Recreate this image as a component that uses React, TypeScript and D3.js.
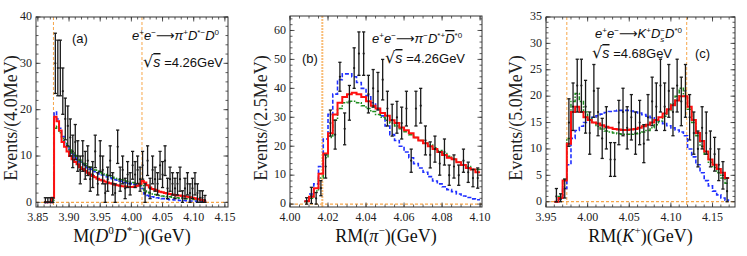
import React from "react";
import * as d3 from "d3";

const W = 747;
const H = 256;

const SERIF = "'Liberation Serif', 'Times New Roman', serif";
const SANS = "'Liberation Sans', Arial, sans-serif";

// ---- panel (a): M(D0 D*-) at 4.26 GeV, 4 MeV bins
const A_DATA_X0 = 3.862;
const A_BIN = 0.004;
const A_COUNTS = [
  0, 0, 0, 0,
  30, 29, 29, 24, 18, 16.5, 14, 11, 13, 10, 7, 10, 8, 9, 5, 6, 11, 4, 10, 7, 2, 5, 9, 4, 2, 12, 5, 7, 3, 6, 4,
  8, 6, 7, 5, 8, 2, 9, 3, 7, 5, 4, 8, 6, 9, 3, 5, 4, 3, 4, 5, 1, 3, 4, 2, 3, 4, 2, 1, 1, 0.5,
];
const A_ERRORS = [
  1, 1, 1, 1,
  6.5, 6, 6, 5, 4.5, 4.3, 4, 3.5, 3.8, 3.3, 3, 3.3, 3, 3.2, 2.6, 2.8, 3.5, 2.4, 3.3, 3, 2, 2.6, 3.2, 2.4, 2, 3.6, 2.6, 3, 2.2, 2.8, 2.4,
  3, 2.8, 3, 2.6, 3, 2, 3.2, 2.2, 3, 2.6, 2.4, 3, 2.8, 3.2, 2.2, 2.6, 2.4, 2.2, 2.4, 2.6, 1.5, 2.2, 2.4, 2, 2.2, 2.4, 2, 1.5, 1.5, 1,
];
const A_CURVE_X0 = 3.86;
const A_RED = [
  0, 0, 0, 1, 18.5, 17.5, 15.5, 13, 12, 11,
  10, 9.3, 8.7, 8.2, 7.6, 7.2, 6.8, 6.4, 6.0, 5.7, 5.4, 5.1, 4.9, 4.7, 4.5, 4.3, 4.1, 4.0, 3.8, 3.7, 3.6, 3.5, 3.4, 3.3, 3.3,
  3.3, 3.4, 3.6, 4.0, 4.6, 4.3, 3.7, 3.2, 2.9, 2.7, 2.5, 2.3, 2.2, 2.0, 1.9, 1.8, 1.7, 1.6, 1.5, 1.5, 1.4, 1.3, 1.2, 1.1, 1.0,
  0.9, 0.7, 0.6, 0.5, 0.3,
];
const A_BLUE = [
  0, 0, 0, 1, 19.5, 18, 16, 14.2, 13, 12,
  11, 10.3, 9.7, 9.2, 8.7, 8.3, 7.9, 7.5, 7.2, 6.9, 6.6, 6.4, 6.1, 5.9, 5.7, 5.5, 5.3, 5.1, 4.9, 4.8, 4.6, 4.5, 4.3, 4.2, 4.1,
  4.0, 3.9, 3.8, 3.6, 3.0, 1.8, 1.5, 1.3, 1.2, 1.1, 1.0, 0.9, 0.8, 0.8, 0.7, 0.6, 0.6, 0.5, 0.5, 0.4, 0.4, 0.4, 0.3, 0.3, 0.3,
  0.3, 0.2, 0.2, 0.2, 0.1,
];
const A_GREEN = [
  0, 0, 0, 0.5, 16, 16.5, 15, 13.8, 12.8, 12,
  11.3, 10.7, 10.1, 9.6, 9.1, 8.7, 8.3, 7.9, 7.6, 7.3, 7.0, 6.7, 6.5, 6.2, 6.0, 5.8, 5.6, 5.4, 5.2, 5.1, 4.9, 4.8, 4.6, 4.5, 4.4,
  4.3, 4.2, 4.1, 4.0, 3.6, 2.5, 2.2, 2.0, 1.8, 1.7, 1.6, 1.5, 1.4, 1.3, 1.2, 1.2, 1.1, 1.0, 1.0, 0.9, 0.9, 0.8, 0.8, 0.7, 0.7,
  0.6, 0.5, 0.5, 0.4, 0.3,
];
const A_THRESHOLDS = [3.875, 4.017];

// ---- panel (b): RM(pi-) at 4.26 GeV, 2.5 MeV bins
const B_DATA_X0 = 4.00875;
const B_BIN = 0.0025;
const B_COUNTS = [
  1, 3, 2, 5.5, 13, 28, 24, 44, 26, 35, 47, 52, 52, 38, 40, 39, 43, 33, 29, 30, 28, 33, 15, 33, 34,
  22, 17, 19, 14, 18, 10, 13, 10, 15, 11, 9, 9,
];
const B_ERRORS = [
  1.2, 2.8, 2, 2.6, 4, 4.5, 5, 5, 5.5, 6, 7, 7.5, 7.5, 6.5, 6.5, 6.5, 7, 6, 5.5, 5.5, 5.5, 6, 4, 6, 6,
  5, 4.5, 4.5, 4, 4.5, 3.5, 4, 3.5, 4, 3.5, 3, 3.5,
];
const B_CURVE_X0 = 4.0075;
const B_RED = [
  1, 2.5, 5.5, 10.5, 17.5, 24.5, 31, 35, 37, 38, 38.5, 38, 37, 35.5, 34, 33, 31.5, 30.5, 29, 28, 26.5, 25.5, 24.5, 23, 22,
  21, 20, 19, 18, 17, 16, 15.5, 14.5, 13.5, 12.5, 12, 11,
];
const B_BLUE = [
  1, 3.5, 7, 13, 22.5, 31, 38, 43, 45, 45, 44, 42, 40, 37.5, 35, 33, 30.5, 27, 24, 22, 20, 18, 16, 14, 12.5,
  11, 9.5, 8, 7, 6, 5, 4.3, 3.5, 2.8, 2.3, 1.8, 1.5,
];
const B_GREEN = [
  0.8, 2, 4.5, 9, 16, 23, 29, 33, 35, 35.5, 35.5, 35, 34, 33, 32, 31, 30, 29, 28, 27, 26, 25, 24, 23, 22,
  21, 20.5, 19.5, 18.5, 17.5, 16.5, 15.5, 14.5, 13.5, 13, 12, 12,
];
const B_THRESHOLDS = [4.017];

// ---- panel (c): RM(K+) at 4.68 GeV, 5 MeV bins
const C_DATA_X0 = 3.9625;
const C_BIN = 0.005;
const C_COUNTS = [
  1, 0.5, 2.5, 15, 18, 22, 22, 18,
  13, 21, 17, 12, 14, 8, 8, 15, 17, 14, 16, 13, 15, 11, 16, 19, 18, 22, 18, 21,
  17, 22, 19, 21, 16, 13, 10, 14, 13, 10, 9, 7, 5, 2,
];
const C_ERRORS = [
  1.5, 1, 1.8, 4.5, 4.5, 5, 5, 5,
  4, 5, 4.5, 3.8, 4, 3.2, 3.2, 4.2, 4.5, 4, 4.3, 4, 4.2, 3.6, 4.3, 4.6, 4.5, 5, 4.5, 5,
  4.5, 5, 4.6, 5, 4.3, 4, 3.4, 4, 4, 3.4, 3.2, 3, 2.6, 2.5,
];
const C_CURVE_X0 = 3.96;
const C_RED = [
  0, 0.7, 4, 11, 17, 18, 17, 16,
  15.5, 15, 14.8, 14.5, 14.2, 14, 13.8, 13.7, 13.6, 13.6, 13.7, 13.8, 14, 14.3, 14.6, 15, 15.5, 16, 16.7, 17.5,
  18.3, 19.2, 20, 20, 18, 15.5, 13, 11.5, 9.5, 8, 7, 6.2, 5.5, 4.5,
];
const C_BLUE = [
  0, 0.5, 2.5, 7, 12, 13.5, 14.3, 15,
  15.5, 16, 16.3, 16.6, 16.9, 17.1, 17.2, 17.3, 17.3, 17.3, 17.2, 17, 16.8, 16.5, 16.2, 15.9, 15.5, 15.2, 14.8, 14.4,
  14, 13.6, 13.2, 12.5, 10, 8.5, 7, 5.5, 4, 3, 2, 1.3, 0.7, 0.3,
];
const C_GREEN = [
  0, 1, 4.2, 12, 19, 20.5, 19, 17,
  15.8, 15, 14.3, 13.8, 13.4, 13.2, 13, 12.9, 12.8, 12.8, 12.8, 12.9, 13, 13.2, 13.5, 14, 14.6, 15.3, 16.2, 17.3,
  18.5, 20, 21.5, 20, 17.5, 15, 12.5, 10.5, 9, 7.5, 6.5, 5.5, 4.5, 3.5,
];
const C_THRESHOLDS = [3.975, 4.119];

type Seg = { t: string; it?: boolean; sup?: boolean; sub?: boolean; dx?: number; over?: boolean; fam?: string; k?: number };

function Rich({ x, y, segs, size, family, anchor = "start", transform }: any) {
  let shift = 0;
  return (
    <text x={x} y={y} fontSize={size} fontFamily={family} textAnchor={anchor} transform={transform} fill="#111">
      {segs.map((s: Seg, i: number) => {
        const target = s.sup ? -size * 0.42 : s.sub ? size * 0.28 : 0;
        const dy = target - shift;
        shift = target;
        const fs = s.sup || s.sub ? size * 0.62 : size * (s.k ?? 1);
        return (
          <tspan
            key={i}
            dy={dy}
            dx={s.dx}
            fontStyle={s.it ? "italic" : "normal"}
            fontSize={fs}
            fontFamily={s.fam}
            style={s.over ? { textDecoration: "overline" } : undefined}
          >
            {s.t}
          </tspan>
        );
      })}
    </text>
  );
}

const ARROW = "DejaVu Sans";

const PANELS = [
  {
    id: "a",
    left: 36, right: 228, top: 17, bottom: 207,
    xDomain: [3.847, 4.155], yDomain: [-1, 40],
    xMajor: [3.85, 0.05, 7], xMinor: 0.01, yMajor: 10, yMinor: 2,
    dataX0: A_DATA_X0, bin: A_BIN, counts: A_COUNTS, errors: A_ERRORS,
    curveX0: A_CURVE_X0, red: A_RED, blue: A_BLUE, green: A_GREEN,
    thresholds: A_THRESHOLDS,
    yTitle: "Events/(4.0MeV)", yTitleX: 11,
    xTitle: [
      { t: "M(" }, { t: "D", it: true }, { t: "0", sup: true }, { t: "D", it: true }, { t: "*−", sup: true }, { t: ")(GeV)" },
    ],
    tag: { t: "(a)", x: 72, y: 43 },
    reaction: {
      x: 132, y: 40,
      segs: [
        { t: "e", it: true }, { t: "+", sup: true }, { t: "e", it: true }, { t: "−", sup: true },
        { t: "⟶", fam: ARROW }, { t: "π", it: true }, { t: "+", sup: true }, { t: "D", it: true },
        { t: "*−", sup: true }, { t: "D", it: true }, { t: "0", sup: true },
      ],
    },
    energy: { x: 143, y: 67, e: "4.26" },
  },
  {
    id: "b",
    left: 290, right: 482, top: 16, bottom: 207,
    xDomain: [4.0, 4.101], yDomain: [-1, 65],
    xMajor: [4.0, 0.02, 6], xMinor: 0.005, yMajor: 10, yMinor: 2,
    dataX0: B_DATA_X0, bin: B_BIN, counts: B_COUNTS, errors: B_ERRORS,
    curveX0: B_CURVE_X0, red: B_RED, blue: B_BLUE, green: B_GREEN,
    thresholds: B_THRESHOLDS,
    yTitle: "Events/(2.5MeV)", yTitleX: 261,
    xTitle: [{ t: "RM(" }, { t: "π", it: true }, { t: "−", sup: true }, { t: ")(GeV)" }],
    tag: { t: "(b)", x: 302, y: 63 },
    reaction: {
      x: 372, y: 43,
      segs: [
        { t: "e", it: true }, { t: "+", sup: true }, { t: "e", it: true }, { t: "−", sup: true },
        { t: "⟶", fam: ARROW }, { t: "π", it: true }, { t: "−", sup: true }, { t: "D", it: true },
        { t: "*+", sup: true }, { t: "D", it: true, over: true }, { t: "*0", sup: true },
      ],
    },
    energy: { x: 385, y: 63, e: "4.26" },
  },
  {
    id: "c",
    left: 546, right: 735, top: 17, bottom: 207,
    xDomain: [3.95, 4.177], yDomain: [-1, 35],
    xMajor: [3.95, 0.05, 5], xMinor: 0.01, yMajor: 5, yMinor: 1,
    dataX0: C_DATA_X0, bin: C_BIN, counts: C_COUNTS, errors: C_ERRORS,
    curveX0: C_CURVE_X0, red: C_RED, blue: C_BLUE, green: C_GREEN,
    thresholds: C_THRESHOLDS,
    yTitle: "Events/(5.0MeV)", yTitleX: 516,
    xTitle: [{ t: "RM(" }, { t: "K", it: true }, { t: "+", sup: true }, { t: ")(GeV)" }],
    tag: { t: "(c)", x: 695, y: 58 },
    reaction: {
      x: 595, y: 38,
      segs: [
        { t: "e", it: true }, { t: "+", sup: true }, { t: "e", it: true }, { t: "−", sup: true },
        { t: "⟶", fam: ARROW }, { t: "K", it: true }, { t: "+", sup: true }, { t: "D", it: true },
        { t: "s", sub: true, it: true }, { t: "−", sup: true, dx: -4 }, { t: "D", it: true }, { t: "*0", sup: true },
      ],
    },
    energy: { x: 592, y: 58, e: "4.68" },
  },
];

function Panel({ p }: any) {
  const x = d3.scaleLinear().domain(p.xDomain).range([p.left, p.right]);
  const y = d3.scaleLinear().domain(p.yDomain).range([p.bottom, p.top]);
  const frame = "#333";

  const step = (vals: number[]) => {
    const pts: [number, number][] = vals.map((v, i) => [p.curveX0 + i * p.bin, v]);
    pts.push([p.curveX0 + vals.length * p.bin, vals[vals.length - 1]]);
    return d3.line<[number, number]>().x((d) => x(d[0])).y((d) => y(d[1])).curve(d3.curveStepAfter)(pts) || "";
  };

  const [x0, xs, xn] = p.xMajor;
  const xMajor = d3.range(xn).map((i) => x0 + i * xs);
  const nMinor = Math.round((p.xDomain[1] - x0) / p.xMinor);
  const xMinor = d3.range(-1, nMinor + 1).map((i) => x0 + i * p.xMinor).filter((v) => v >= p.xDomain[0] && v <= p.xDomain[1]);
  const yMajor = d3.range(0, p.yDomain[1] + 1e-6, p.yMajor);
  const yMinor = d3.range(0, p.yDomain[1] + 1e-6, p.yMinor);
  const clipId = `clip-${p.id}`;

  return (
    <g>
      <defs>
        <clipPath id={clipId}>
          <rect x={p.left} y={p.top} width={p.right - p.left} height={p.bottom - p.top} />
        </clipPath>
      </defs>
      <g clipPath={`url(#${clipId})`}>
        <line x1={p.left} x2={p.right} y1={y(0)} y2={y(0)} stroke="#f7a64a" strokeWidth={1.2} strokeDasharray="3,2" />
        {p.thresholds.map((t: number) => (
          <line key={t} x1={x(t)} x2={x(t)} y1={p.top} y2={p.bottom} stroke="#f7a64a"
            strokeWidth={p.id === "b" ? 2 : 1} strokeDasharray={p.id === "b" ? "2,1" : "3,2"} opacity={p.id === "b" ? 0.75 : 1} />
        ))}
        <path d={step(p.blue)} fill="none" stroke="#2030ff" strokeWidth={1.6} strokeDasharray="4,2" />
        <path d={step(p.green)} fill="none" stroke="#1e8c1e" strokeWidth={1.5} strokeDasharray="4,1.5,1.5,1.5" />
        <path d={step(p.red)} fill="none" stroke="#ff1010" strokeWidth={2} />
        {p.counts.map((v: number, i: number) => {
          const cx = x(p.dataX0 + i * p.bin);
          const lo = y(Math.max(0, v - p.errors[i]));
          const hi = y(v + p.errors[i]);
          return (
            <g key={i} stroke="#1a1a1a" strokeWidth={1.3}>
              <line x1={cx} x2={cx} y1={lo} y2={hi} />
              <line x1={cx - 1.6} x2={cx + 1.6} y1={lo} y2={lo} />
              <line x1={cx - 1.6} x2={cx + 1.6} y1={hi} y2={hi} />
              <circle cx={cx} cy={y(v)} r={1.1} fill="#1a1a1a" stroke="none" />
            </g>
          );
        })}
      </g>

      {/* frame + ticks on all four sides */}
      <rect x={p.left} y={p.top} width={p.right - p.left} height={p.bottom - p.top} fill="none" stroke={frame} strokeWidth={1} />
      <g stroke={frame} strokeWidth={0.8}>
        {xMinor.map((v: number, i: number) => (
          <g key={`xm${i}`}>
            <line x1={x(v)} x2={x(v)} y1={p.bottom} y2={p.bottom - 2.5} />
            <line x1={x(v)} x2={x(v)} y1={p.top} y2={p.top + 2.5} />
          </g>
        ))}
        {xMajor.map((v: number, i: number) => (
          <g key={`xM${i}`}>
            <line x1={x(v)} x2={x(v)} y1={p.bottom} y2={p.bottom - 4.5} />
            <line x1={x(v)} x2={x(v)} y1={p.top} y2={p.top + 4.5} />
          </g>
        ))}
        {yMinor.map((v: number, i: number) => (
          <g key={`ym${i}`}>
            <line x1={p.left} x2={p.left + 2.5} y1={y(v)} y2={y(v)} />
            <line x1={p.right} x2={p.right - 2.5} y1={y(v)} y2={y(v)} />
          </g>
        ))}
        {yMajor.map((v: number, i: number) => (
          <g key={`yM${i}`}>
            <line x1={p.left} x2={p.left + 4.5} y1={y(v)} y2={y(v)} />
            <line x1={p.right} x2={p.right - 4.5} y1={y(v)} y2={y(v)} />
          </g>
        ))}
      </g>
      <g fontFamily={SERIF} fontSize={12} fill="#222">
        {xMajor.map((v: number, i: number) => (
          <text key={`xl${i}`} x={x(v)} y={221} textAnchor="middle">{d3.format(".2f")(v)}</text>
        ))}
        {yMajor.map((v: number, i: number) => (
          <text key={`yl${i}`} x={p.left - 4} y={y(v) + 3.3} textAnchor="end">{v}</text>
        ))}
      </g>

      <text transform={`translate(${p.yTitleX},118) rotate(-90)`} textAnchor="middle" fontFamily={SERIF} fontSize={18} fill="#222"
        dy="0.35em">
        {p.yTitle}
      </text>
      <Rich x={(p.left + p.right) / 2} y={242} segs={p.xTitle} size={18} family={SERIF} anchor="middle" />

      <text x={p.tag.x} y={p.tag.y} fontFamily={SANS} fontSize={13} fill="#111">{p.tag.t}</text>
      <Rich x={p.reaction.x} y={p.reaction.y} segs={p.reaction.segs} size={13} family={SANS} />
      <Rich
        x={p.energy.x}
        y={p.energy.y}
        size={13}
        family={SANS}
        segs={[
          { t: "√", k: 1.25, fam: ARROW },
          { t: "s", it: true, over: true, k: 1.1 },
          { t: " =" + p.energy.e + "GeV" },
        ]}
      />
    </g>
  );
}

export default function App() {
  return (
    <svg width={W} height={H} viewBox={`0 0 ${W} ${H}`}
      style={{ position: "absolute", left: 0, top: 0, display: "block", background: "#fff" }}>
      <rect width={W} height={H} fill="#fff" />
      {PANELS.map((p) => (
        <Panel key={p.id} p={p} />
      ))}
    </svg>
  );
}
